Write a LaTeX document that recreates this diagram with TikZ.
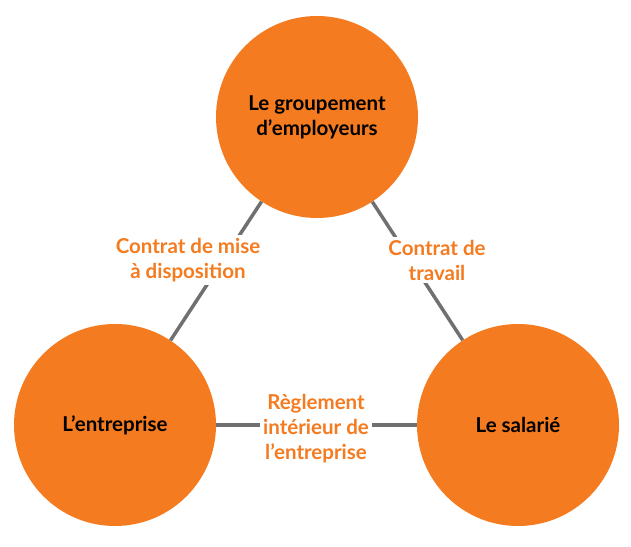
\documentclass[tikz,border=0pt]{standalone}
\usepackage{fontspec}
\setmainfont{Lato}
\usetikzlibrary{positioning}
\definecolor{orng}{HTML}{F47B20}
\definecolor{lnk}{HTML}{707070}
\begin{document}
\begin{tikzpicture}[x=1pt,y=1pt,
        party/.style={circle, fill=orng, minimum size=202pt, inner sep=0pt, align=center, font=\fontsize{20.5}{25}\selectfont\bfseries},
        deal/.style={fill=white, text=orng, align=center, inner sep=3pt, font=\fontsize{20.5}{25}\selectfont\bfseries},
        link/.style={draw=lnk, line width=3.5pt},
    ]
    \useasboundingbox (0,0) rectangle (631,546);
    % the three parties
    \node[party] (groupement) at (317,429) {Le groupement\\d’employeurs};
    \node[party] (entreprise) at (115,121) {L’entreprise};
    \node[party] (salarie) at (518,121) {Le salarié};

    % links
    \draw[link] (groupement) -- (entreprise);
    \draw[link] (groupement) -- (salarie);
    \draw[link] (entreprise) -- (salarie);

    % labels
    \node[deal] (mise) at (188,286) {Contrat de mise\\à disposition};
    \node[deal] (travail) at (437,286) {Contrat de\\travail};
    \node[deal] (reglement) at (316,117) {Règlement\\intérieur de\\l’entreprise};
\end{tikzpicture}
\end{document}
